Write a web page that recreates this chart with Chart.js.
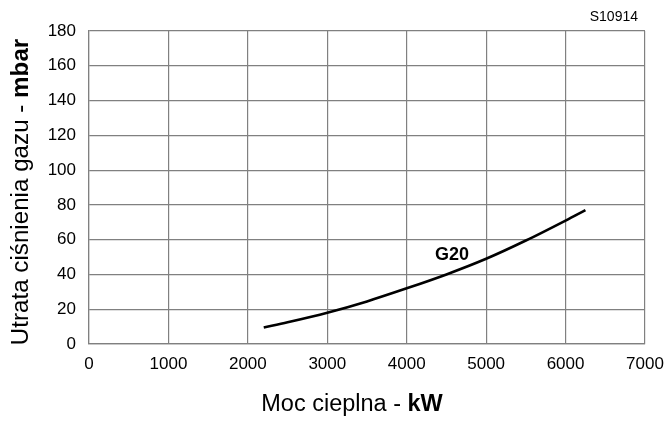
<!DOCTYPE html>
<html>
<head>
<meta charset="utf-8">
<script src="https://cdn.jsdelivr.net/npm/chart.js@4/dist/chart.umd.min.js"></script>
<style>
  html, body { margin: 0; padding: 0; background: #fff; }
  #chart { display: block; }
</style>
</head>
<body>
<canvas id="chart" width="667" height="422"></canvas>
<script>
// values
var powerKW = [2200, 2500, 3000, 3500, 4000, 4500, 5000, 5500, 6000, 6250];
var lossMbar = [9.5, 12.5, 18, 24.5, 32, 40, 49, 59.5, 71, 77];
var xTicks = [0, 1000, 2000, 3000, 4000, 5000, 6000, 7000];
var yTicks = [0, 20, 40, 60, 80, 100, 120, 140, 160, 180];
var seriesName = 'G20';
var labelAt = [4570, 51];
var drawingCode = 'S10914';

var FONT = '"Liberation Sans", Arial, sans-serif';

// draws text made of normal + bold parts, centred on (0, 0)
function mixedText(ctx, parts, size) {
    var widths = parts.map(function (p) {
        ctx.font = (p.bold ? 'bold ' : '') + size + 'px ' + FONT;
        return ctx.measureText(p.text).width;
    });
    var total = widths.reduce(function (a, b) { return a + b; }, 0);
    var x = -total / 2;
    parts.forEach(function (p, i) {
        ctx.font = (p.bold ? 'bold ' : '') + size + 'px ' + FONT;
        ctx.fillText(p.text, x, 0);
        x += widths[i];
    });
}

var textsPlugin = {
    id: 'texts',
    afterDraw: function (chart) {
        var ctx = chart.ctx;
        var xs = chart.scales.x, ys = chart.scales.y;
        ctx.save();
        ctx.fillStyle = '#000';
        ctx.textAlign = 'left';
        ctx.textBaseline = 'middle';

        // x axis title
        ctx.save();
        ctx.translate(352, 405);
        mixedText(ctx, [{ text: 'Moc cieplna - ' }, { text: 'kW', bold: true }], 23.5);
        ctx.restore();

        // y axis title
        ctx.save();
        ctx.translate(21, 192);
        ctx.rotate(-Math.PI / 2);
        mixedText(ctx, [{ text: 'Utrata ciśnienia gazu - ' }, { text: 'mbar', bold: true }], 24.2);
        ctx.restore();

        // curve label
        ctx.font = 'bold 18px ' + FONT;
        ctx.textAlign = 'center';
        ctx.fillText(seriesName, xs.getPixelForValue(labelAt[0]), ys.getPixelForValue(labelAt[1]));

        // drawing code
        ctx.font = '14px ' + FONT;
        ctx.textAlign = 'right';
        ctx.fillText(drawingCode, 638, 17);
        ctx.restore();
    }
};

new Chart(document.getElementById('chart'), {
    type: 'line',
    data: {
        datasets: [{
            label: seriesName,
            data: powerKW.map(function (p, i) { return { x: p, y: lossMbar[i] }; }),
            borderColor: '#000',
            borderWidth: 2.6,
            pointRadius: 0,
            fill: false,
            cubicInterpolationMode: 'monotone'
        }]
    },
    options: {
        responsive: false,
        animation: false,
        layout: { padding: { top: 31, right: 22, left: 0, bottom: 0 } },
        plugins: {
            legend: { display: false },
            tooltip: { enabled: false }
        },
        scales: {
            x: {
                type: 'linear',
                min: xTicks[0],
                max: xTicks[xTicks.length - 1],
                afterBuildTicks: function (scale) {
                    scale.ticks = xTicks.map(function (v) { return { value: v }; });
                },
                afterFit: function (scale) {
                    scale.height = 78;
                    scale.paddingLeft = 0;
                    scale.paddingRight = 0;
                },
                grid: { color: '#808080', lineWidth: 1.2, drawTicks: false },
                border: { color: '#808080', width: 1.2 },
                ticks: {
                    padding: 10,
                    color: '#000',
                    font: { family: FONT, size: 17 },
                    maxRotation: 0,
                    callback: function (v) { return String(v); }
                }
            },
            y: {
                type: 'linear',
                min: yTicks[0],
                max: yTicks[yTicks.length - 1],
                afterBuildTicks: function (scale) {
                    scale.ticks = yTicks.map(function (v) { return { value: v }; });
                },
                afterFit: function (scale) {
                    scale.width = 89;
                    scale.paddingTop = 0;
                    scale.paddingBottom = 0;
                },
                grid: { color: '#808080', lineWidth: 1.2, drawTicks: false },
                border: { color: '#808080', width: 1.2 },
                ticks: {
                    padding: 13,
                    color: '#000',
                    font: { family: FONT, size: 17 },
                    callback: function (v) { return String(v); }
                }
            }
        }
    },
    plugins: [textsPlugin]
});
</script>
</body>
</html>
